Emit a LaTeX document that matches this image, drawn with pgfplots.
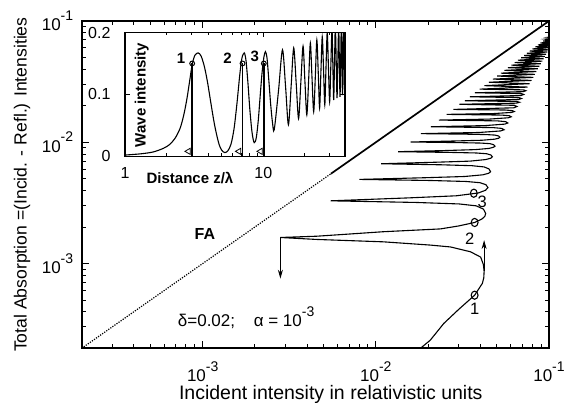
\documentclass[border=0pt]{standalone}
\usepackage{fontspec}
\setmainfont{Liberation Sans}
\usepackage{pgfplots}
\pgfplotsset{compat=1.18}
\usetikzlibrary{arrows.meta}

\newcommand{\fs}[1]{\fontsize{#1}{#1}\selectfont}
\newcommand{\tenexp}[1]{10\raisebox{0.6em}{\fs{14}#1}}

\begin{document}
\begin{tikzpicture}
\path[use as bounding box] (0pt,0pt) rectangle (564pt,403pt);

% main panel
\begin{axis}[
  at={(81.7pt,54.7pt)}, anchor=south west,
  scale only axis, width=467.3pt, height=327.3pt,
  xmode=log, ymode=log,
  xmin=2e-4, xmax=0.1, ymin=2e-4, ymax=0.1,
  xtick={1e-3,1e-2,1e-1}, ytick={1e-3,1e-2,1e-1},
  xticklabels={\tenexp{-3},\tenexp{-2},\tenexp{-1}},
  yticklabels={\tenexp{-3},\tenexp{-2},\tenexp{-1}},
  minor xtick={3e-4,4e-4,5e-4,6e-4,7e-4,8e-4,9e-4,2e-3,3e-3,4e-3,5e-3,6e-3,7e-3,8e-3,9e-3,2e-2,3e-2,4e-2,5e-2,6e-2,7e-2,8e-2,9e-2},
  minor ytick={3e-4,4e-4,5e-4,6e-4,7e-4,8e-4,9e-4,2e-3,3e-3,4e-3,5e-3,6e-3,7e-3,8e-3,9e-3,2e-2,3e-2,4e-2,5e-2,6e-2,7e-2,8e-2,9e-2},
  tick align=inside,
  major tick length=7pt, minor tick length=4pt,
  tick style={black, line width=0.9pt},
  axis line style={line width=1.7pt},
  ticklabel style={font=\fs{17}},
  xticklabel style={yshift=-10pt},
  yticklabel style={xshift=-5pt},
  xlabel={Incident intensity in relativistic units},
  ylabel={Total Absorption =(Incid. - Refl.) Intensities},
  xlabel style={at={(axis description cs:0.533,-0.156)}, anchor=base, font=\fs{19.5}},
  ylabel style={at={(axis description cs:-0.118,0.5)}, anchor=base, font=\fs{17.6}},
  clip mode=individual,
]
% full absorption line
\addplot[black, line width=1.2pt, dash pattern=on 1.2pt off 1.3pt] coordinates {(2e-4,2e-4) (5.5e-3,5.5e-3)};
\addplot[black, line width=1.7pt] coordinates {(5.5e-3,5.5e-3) (0.1,0.1)};

% absorption curve
\addplot[black, line width=1.1pt] coordinates {
(0.0174,1.91e-4) (0.0181,2.0e-4) (0.0206,2.33e-4) (0.0247,3.21e-4) (0.0300,4.17e-4)
(0.0372,5.48e-4) (0.0412,6.85e-4) (0.0420,7.6e-4) (0.0422,8.6e-4) (0.0418,9.8e-4)
(0.0403,1.13e-3) (0.0352,1.25e-3) (0.0270,1.37e-3) (0.0206,1.42e-3) (0.01106,1.51e-3)
(4.55e-3,1.58e-3) (2.81e-3,1.64e-3)
(4.55e-3,1.68e-3) (6.2e-3,1.73e-3) (0.01106,1.83e-3) (0.0236,1.93e-3) (0.0300,2.04e-3)
(0.0372,2.18e-3) (0.0410,2.33e-3) (0.0426,2.45e-3) (0.0431,2.59e-3)
(0.0418,2.81e-3) (0.0380,2.99e-3) (0.0303,3.10e-3) (0.0170,3.19e-3) (5.48e-3,3.29e-3)
(0.0156,3.48e-3) (0.0292,3.62e-3) (0.0391,3.82e-3) (0.0430,4.02e-3) (0.0444,4.23e-3)
(0.0432,4.47e-3) (0.0400,4.64e-3) (0.0332,4.75e-3) (0.0206,4.84e-3) (8.04e-3,4.94e-3)
(0.0192,5.10e-3) (0.0325,5.22e-3) (0.0415,5.39e-3) (0.0448,5.55e-3) (0.0460,5.71e-3)
(0.0450,6.03e-3) (0.0422,6.26e-3) (0.0359,6.41e-3) (0.0239,6.52e-3) (0.01074,6.65e-3)
(0.0225,6.85e-3) (0.0350,6.99e-3) (0.0431,7.20e-3) (0.0461,7.39e-3) (0.0471,7.59e-3)
(0.0462,7.85e-3) (0.0437,8.04e-3) (0.0380,8.16e-3) (0.0268,8.25e-3) (0.01343,8.36e-3)
(0.0256,8.55e-3) (0.0377,8.70e-3) (0.0451,8.90e-3) (0.0478,9.10e-3) (0.0488,9.29e-3)
(0.0479,9.55e-3) (0.0456,9.74e-3) (0.0403,9.85e-3) (0.0294,9.94e-3) (0.0159,0.01005)
(0.0287,0.01025) (0.0410,0.01039) (0.0484,0.01060) (0.0511,0.01079) (0.0520,0.01099)
(0.0512,0.01126) (0.0488,0.01146) (0.0435,0.01157) (0.0324,0.01167) (0.0182,0.01178)
(0.0394,0.01204) (0.0526,0.01240) (0.0550,0.01268)
(0.0534,0.01301) (0.0475,0.01321) (0.0208,0.01343)
(0.0426,0.01372) (0.0555,0.01411) (0.0578,0.01442)
(0.0562,0.01479) (0.0504,0.01501) (0.0231,0.01524)
(0.0453,0.01553) (0.0582,0.01592) (0.0605,0.01622)
(0.0590,0.01656) (0.0532,0.01676) (0.0256,0.01698)
(0.0481,0.01725) (0.0607,0.01762) (0.0630,0.01791)
(0.0614,0.01824) (0.0557,0.01845) (0.0280,0.01866)
(0.0626,0.01924) (0.0653,0.01972) (0.0629,0.02018) (0.0304,0.02056)
(0.0648,0.02101) (0.0675,0.02138) (0.0650,0.02171) (0.0327,0.02198)
(0.0668,0.02252) (0.0693,0.02296) (0.0670,0.02337) (0.0349,0.02371)
(0.0689,0.02429) (0.0714,0.02477) (0.0692,0.02522) (0.0373,0.02559)
(0.0710,0.02615) (0.0735,0.02661) (0.0712,0.02705) (0.0398,0.02742)
(0.0753,0.02851) (0.0424,0.02931) (0.0773,0.03041) (0.0449,0.03126)
(0.0793,0.03236) (0.0475,0.03319) (0.0811,0.03428) (0.0501,0.03516)
(0.0828,0.03631) (0.0527,0.03715) (0.0845,0.03828) (0.0553,0.03917)
(0.0863,0.04036) (0.0579,0.04121) (0.0881,0.04236) (0.0607,0.04325)
(0.0897,0.04446) (0.0634,0.04539) (0.0914,0.04667) (0.0662,0.04753)
(0.0931,0.04887) (0.0690,0.04977) (0.0946,0.05105) (0.0718,0.0520)
(0.0962,0.05321) (0.0746,0.0542) (0.0977,0.05546) (0.0774,0.05649)
(0.0993,0.05781) (0.0803,0.05888) (0.1009,0.06026) (0.0834,0.06124)
(0.1023,0.06252) (0.0863,0.06353) (0.1040,0.06486) (0.0893,0.06592)
(0.1054,0.0673) (0.0925,0.06839) (0.1069,0.06982) (0.0955,0.07096)
(0.1084,0.07244) (0.0986,0.07345) (0.1099,0.07499) (0.1019,0.07603)
};

% jumps
\addplot[black, line width=1pt, -{Stealth[length=9pt,width=5pt]}] coordinates {(2.81e-3,1.64e-3) (2.81e-3,7.5e-4)};
\addplot[black, line width=1pt, -{Stealth[length=9pt,width=5pt]}] coordinates {(0.0422,8.6e-4) (0.0422,1.56e-3)};

% marked points
\addplot[black, only marks, mark=o, mark size=3.4pt, mark options={line width=1.1pt, yscale=1.2}] coordinates {(0.0372,5.48e-4) (0.0372,2.18e-3) (0.0368,3.80e-3)};

\node[font=\fs{16.5}] at (axis cs:0.0373,4.27e-4) {1};
\node[font=\fs{16.5}] at (axis cs:0.0349,1.61e-3) {2};
\node[font=\fs{16.5}] at (axis cs:0.0412,3.23e-3) {3};
\node[font=\fs{16}\bfseries] at (axis cs:1.03e-3,1.75e-3) {FA};
\node[font=\fs{17}, anchor=base west] at (axis cs:6.86e-4,3.0e-4) {δ=0.02;\hspace{1.1em}α = \tenexp{-3}};
\end{axis}

% inset
\begin{axis}[
  at={(125pt,246.7pt)}, anchor=south west,
  scale only axis, width=220pt, height=123.8pt,
  xmode=log, xmin=1, xmax=39, ymin=0, ymax=0.2,
  xtick={1,10}, xticklabels={1,10},
  minor xtick={2,3,4,5,6,7,8,9,20,30},
  ytick={0,0.1,0.2}, yticklabels={0,0.1,0.2},
  tick align=inside, major tick length=5pt, minor tick length=3pt,
  tick style={black, line width=0.8pt},
  axis line style={line width=1.4pt},
  ticklabel style={font=\fs{16}},
  xticklabel style={yshift=-8pt},
  yticklabel style={xshift=-11pt},
  axis background/.style={fill=white},
  clip mode=individual,
]
\addplot[black, line width=1.1pt, smooth] coordinates {
(1.0,0.002) (1.3,0.004) (1.6,0.007) (1.9,0.013) (2.1,0.019) (2.3,0.029) (2.5,0.045)
(2.65,0.065) (2.8,0.092) (2.95,0.125) (3.06,0.148) (3.2,0.163) (3.38,0.167) (3.55,0.162)
(3.75,0.145) (3.95,0.12) (4.2,0.083) (4.45,0.05) (4.75,0.022) (5.0,0.01) (5.27,0.006)
(5.55,0.009) (5.85,0.02) (6.15,0.045) (6.45,0.085) (6.75,0.13) (7.0,0.158) (7.28,0.167)
(7.5,0.155) (7.75,0.118) (8.0,0.075) (8.3,0.038) (8.6,0.022) (8.9,0.03) (9.2,0.058)
(9.5,0.098) (9.8,0.135) (10.1,0.16) (10.37,0.169) (10.65,0.158) (10.95,0.125) (11.3,0.085)
(11.65,0.055) (12.0,0.043) (12.9,0.107) (13.77,0.172) (14.5,0.112) (15.2,0.051)
(15.9,0.113) (16.6,0.175) (17.3,0.118) (18.0,0.061) (18.7,0.12) (19.4,0.178) (20.0,0.122)
(20.65,0.067) (21.3,0.125) (21.9,0.183) (22.5,0.128) (23.15,0.072) (23.8,0.13) (24.4,0.188)
(25.0,0.133) (25.55,0.078) (26.1,0.135) (26.7,0.193) (27.3,0.138) (27.85,0.083) (28.4,0.141)
(29.0,0.20) (29.6,0.144) (30.2,0.088) (30.8,0.146) (31.4,0.205) (31.85,0.148) (32.3,0.091)
(32.75,0.150) (33.2,0.21) (33.7,0.152) (34.15,0.094) (34.6,0.152) (35.1,0.21) (35.5,0.153)
(35.9,0.096) (36.3,0.155) (36.7,0.215) (37.05,0.157) (37.4,0.099) (37.75,0.16) (38.1,0.22)
(38.45,0.16) (38.8,0.10) (39.15,0.16) (39.5,0.22)
};
\addplot[black, line width=1.6pt] coordinates {(3.06,0) (3.06,0.15)};
\addplot[black, line width=1.6pt] coordinates {(7.08,0) (7.08,0.15)};
\addplot[black, line width=1.6pt] coordinates {(10.09,0) (10.09,0.15)};
\addplot[black, only marks, mark=o, mark size=2.4pt, mark options={line width=1pt, fill=white}] coordinates {(3.06,0.15) (7.08,0.15) (10.09,0.15)};
\addplot[black, only marks, mark=triangle, mark size=3.6pt, mark options={rotate=90, line width=0.8pt}] coordinates {(2.88,0.008) (6.68,0.008) (9.55,0.008)};
\node[font=\fs{15}\bfseries] at (axis cs:2.54,0.158) {1};
\node[font=\fs{15}\bfseries] at (axis cs:5.51,0.158) {2};
\node[font=\fs{15}\bfseries] at (axis cs:8.68,0.161) {3};
\node[font=\fs{15}\bfseries, rotate=90] at (axis cs:1.32,0.099) {Wave intensity};
\node[font=\fs{15}\bfseries] at (axis cs:2.95,-0.035) {Distance z/λ};
\end{axis}
\end{tikzpicture}
\end{document}
